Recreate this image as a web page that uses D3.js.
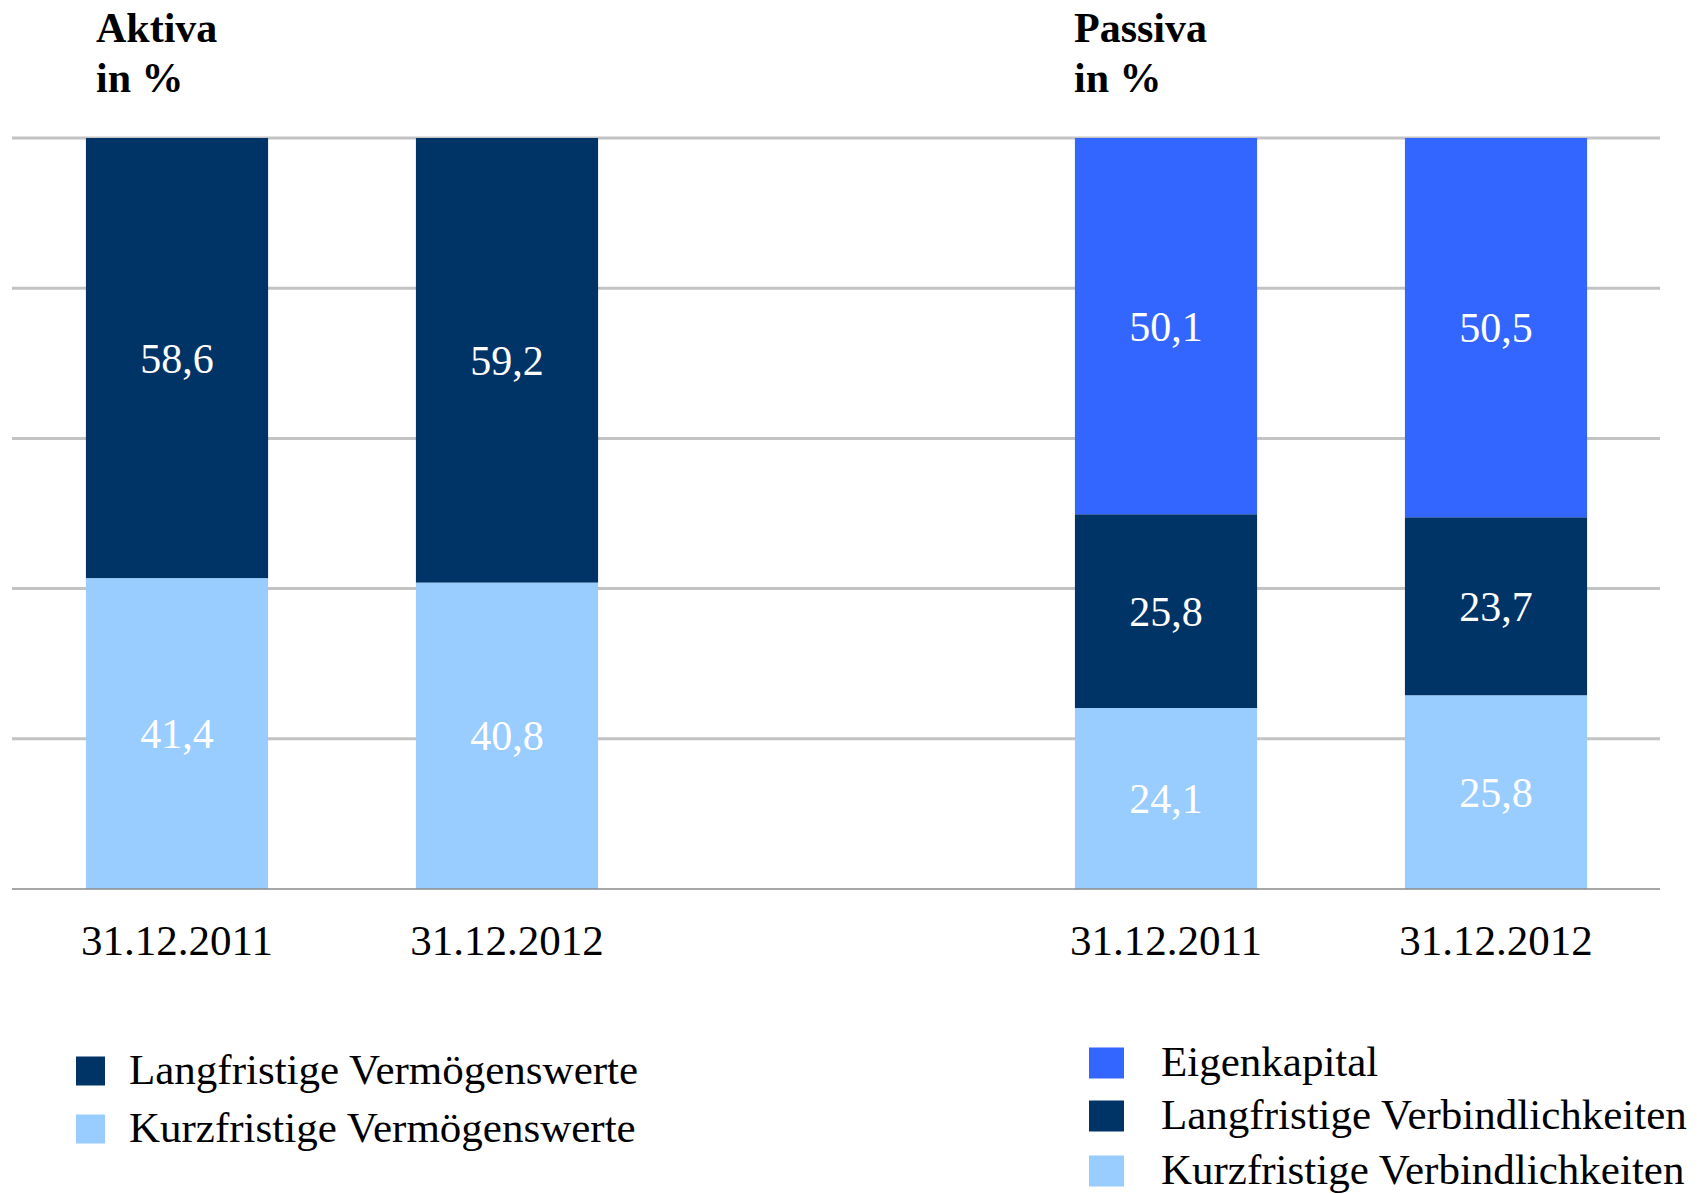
<!DOCTYPE html>
<html><head><meta charset="utf-8">
<script src="https://cdn.jsdelivr.net/npm/d3@7"></script>
<style>html,body{margin:0;padding:0;background:#fff}</style>
</head><body>
<svg id="c" width="1702" height="1194"></svg>
<script>
const dates = ["31.12.2011", "31.12.2012"];
const ticks = [0, 20, 40, 60, 80, 100];
// Aktiva (stack order bottom -> top)
const aktivaSeries = ["Kurzfristige Vermögenswerte", "Langfristige Vermögenswerte"];
const aktivaKurz = [41.4, 40.8];
const aktivaLang = [58.6, 59.2];
// Passiva (stack order bottom -> top)
const passivaSeries = ["Kurzfristige Verbindlichkeiten", "Langfristige Verbindlichkeiten", "Eigenkapital"];
const passivaKurz = [24.1, 25.8];
const passivaLang = [25.8, 23.7];
const passivaEigen = [50.1, 50.5];

const NAVY = "#013466", LIGHT = "#99ccff", BLUE = "#3366ff";
const FONT = "'Liberation Serif', 'Times New Roman', serif";

const svg = d3.select("#c");
const y = d3.scaleLinear().domain([0, 100]).range([889, 138]);

// gridlines
svg.append("g").selectAll("line").data(ticks.filter(t => t > 0)).join("line")
  .attr("x1", 12).attr("x2", 1660)
  .attr("y1", d => y(d)).attr("y2", d => y(d))
  .attr("stroke", "#c3c3c3").attr("stroke-width", 3);

function panel(range, series, valueArrays, colors, title, titleX) {
  const x = d3.scaleBand().domain(dates).range(range).paddingInner(0.448).paddingOuter(0.224);
  const rows = dates.map((d, i) => {
    const o = {date: d};
    series.forEach((s, j) => o[s] = valueArrays[j][i]);
    return o;
  });
  const stacked = d3.stack().keys(series)(rows);
  const g = svg.append("g");
  stacked.forEach((layer, j) => {
    g.append("g").selectAll("rect").data(layer).join("rect")
      .attr("x", d => x(d.data.date))
      .attr("width", x.bandwidth())
      .attr("y", d => y(d[1]))
      .attr("height", d => y(d[0]) - y(d[1]))
      .attr("fill", colors[j]);
    g.append("g").selectAll("text").data(layer).join("text")
      .attr("x", d => x(d.data.date) + x.bandwidth() / 2)
      .attr("y", d => (y(d[0]) + y(d[1])) / 2)
      .attr("dy", "0.35em")
      .attr("text-anchor", "middle")
      .attr("fill", "#fff")
      .style("font-family", FONT).style("font-size", "42px")
      .text(d => d3.format(".1f")(d[1] - d[0]).replace(".", ","));
  });
  // x axis labels
  const ax = svg.append("g").attr("transform", "translate(0,889)")
    .call(d3.axisBottom(x).tickSize(0).tickPadding(0));
  ax.select(".domain").remove();
  ax.selectAll("text").attr("y", 66).attr("dy", 0)
    .style("font-family", FONT).style("font-size", "43px").attr("fill", "#000");
  // title
  svg.append("text").attr("x", titleX).attr("y", 42)
    .style("font-family", FONT).style("font-size", "42px").style("font-weight", "bold")
    .text(title);
  svg.append("text").attr("x", titleX).attr("y", 92)
    .style("font-family", FONT).style("font-size", "42px").style("font-weight", "bold")
    .text("in %");
}

panel([12, 672], aktivaSeries, [aktivaKurz, aktivaLang], [LIGHT, NAVY], "Aktiva", 96);
panel([1001, 1661], passivaSeries, [passivaKurz, passivaLang, passivaEigen], [LIGHT, NAVY, BLUE], "Passiva", 1074);

// baseline
svg.append("line").attr("x1", 12).attr("x2", 1660).attr("y1", y(0)).attr("y2", y(0))
  .attr("stroke", "#8a8a8a").attr("stroke-width", 1.5);

// legends
function legend(items, colors, x0, ys, sw, sh, tx) {
  const g = svg.append("g");
  items.forEach((it, i) => {
    g.append("rect").attr("x", x0).attr("y", ys[i] - sh / 2).attr("width", sw).attr("height", sh).attr("fill", colors[i]);
    g.append("text").attr("x", tx).attr("y", ys[i]).attr("dy", "0.3em")
      .style("font-family", FONT).style("font-size", "43px").text(it);
  });
}
legend(["Langfristige Vermögenswerte", "Kurzfristige Vermögenswerte"], [NAVY, LIGHT], 76, [1071, 1129], 29, 29, 129);
legend(["Eigenkapital", "Langfristige Verbindlichkeiten", "Kurzfristige Verbindlichkeiten"], [BLUE, NAVY, LIGHT], 1089, [1063, 1116, 1171], 35, 31, 1161);
</script>
</body></html>
